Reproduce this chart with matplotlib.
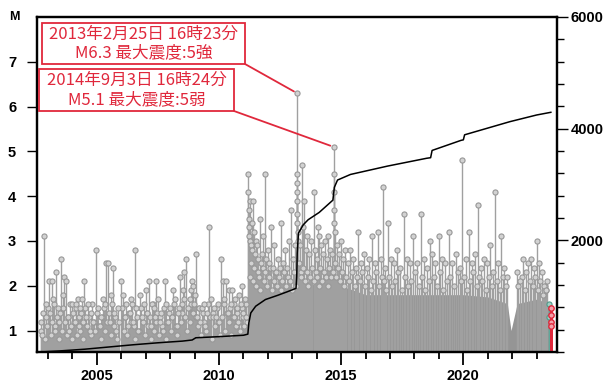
import matplotlib
matplotlib.use("Agg")
import matplotlib.pyplot as plt
from matplotlib.patches import Rectangle
from matplotlib.ticker import MultipleLocator, FixedLocator

# ---------------- data ----------------
# earlier, sparser activity (decimal year, magnitude)
pre_t = [2002.70, 2002.76, 2002.84, 2002.90, 2002.97, 2003.05, 2003.09, 2003.15, 2003.21, 2003.27,
         2003.33, 2003.40, 2003.46, 2003.53, 2003.60, 2003.67, 2003.74, 2003.80, 2003.86, 2003.97,
         2004.03, 2004.10, 2004.15, 2004.22, 2004.28, 2004.33, 2004.38, 2004.48, 2004.55, 2004.62,
         2004.70, 2004.78, 2004.86, 2004.97, 2005.05, 2005.12, 2005.18, 2005.25, 2005.32, 2005.38,
         2005.45, 2005.52, 2005.59, 2005.66, 2005.72, 2005.80, 2005.88, 2005.98, 2006.07, 2006.14,
         2006.20, 2006.27, 2006.34, 2006.41, 2006.48, 2006.55, 2006.62, 2006.70, 2006.77, 2006.84,
         2006.92, 2007.02, 2007.07, 2007.14, 2007.20, 2007.25, 2007.32, 2007.37, 2007.43, 2007.50,
         2007.57, 2007.64, 2007.71, 2007.78, 2007.85, 2007.92, 2008.00, 2008.06, 2008.12, 2008.20,
         2008.27, 2008.34, 2008.41, 2008.47, 2008.52, 2008.57, 2008.66, 2008.74, 2008.80, 2008.85,
         2008.89, 2008.95, 2008.98, 2009.05, 2009.10, 2009.17, 2009.24, 2009.30, 2009.37, 2009.44,
         2009.50, 2009.60, 2009.67, 2009.74, 2009.80, 2009.87, 2009.94, 2010.01, 2010.09, 2010.16,
         2010.22, 2010.30, 2010.35, 2010.42, 2010.48, 2010.54, 2010.60, 2010.66, 2010.72, 2010.77,
         2010.83, 2010.89, 2010.94, 2011.00, 2011.06, 2011.12]
pre_m = [1.2, 0.9, 3.1, 1.6, 1.1, 2.1, 1.4, 2.1, 1.7, 1.0,
         2.3, 1.5, 1.2, 2.6, 1.8, 2.2, 2.1, 1.3, 1.0, 1.6,
         1.4, 1.2, 1.6, 1.7, 1.1, 1.5, 1.7, 2.1, 1.3, 1.6,
         1.0, 1.4, 1.2, 2.8, 1.5, 1.1, 1.3, 1.7, 1.6, 2.5,
         2.5, 1.2, 1.8, 2.4, 1.4, 1.0, 1.5, 2.1, 1.8, 1.3,
         1.6, 1.1, 1.4, 1.7, 1.2, 2.8, 1.5, 1.0, 1.8, 1.3,
         1.6, 1.9, 1.4, 2.1, 1.1, 1.6, 1.5, 1.3, 2.1, 1.7,
         1.2, 1.4, 1.0, 2.1, 1.6, 1.2, 1.5, 1.3, 1.9, 1.7,
         1.1, 1.4, 2.2, 1.6, 1.9, 2.3, 2.6, 1.5, 1.7, 1.9,
         2.1, 2.0, 1.6, 2.7, 1.3, 1.5, 1.2, 1.5, 1.6, 1.1,
         1.4, 3.3, 1.7, 1.3, 1.5, 1.3, 1.6, 1.2, 2.6, 2.1,
         1.7, 2.1, 1.4, 1.9, 1.6, 1.9, 1.3, 1.7, 1.5, 1.2,
         1.8, 1.6, 2.0, 1.4, 1.7, 1.3]

# further small events of the earlier period
pre2_t = [2002.73, 2002.80, 2002.87, 2002.93, 2003.01, 2003.12, 2003.18, 2003.24, 2003.30, 2003.37,
          2003.43, 2003.50, 2003.57, 2003.63, 2003.70, 2003.77, 2003.83, 2003.90, 2003.93, 2004.00,
          2004.06, 2004.13, 2004.18, 2004.25, 2004.31, 2004.36, 2004.42, 2004.45, 2004.52, 2004.58,
          2004.66, 2004.74, 2004.82, 2004.90, 2004.94, 2005.01, 2005.08, 2005.15, 2005.22, 2005.29,
          2005.35, 2005.42, 2005.49, 2005.56, 2005.63, 2005.69, 2005.76, 2005.84, 2005.92, 2006.02,
          2006.10, 2006.17, 2006.24, 2006.30, 2006.38, 2006.44, 2006.51, 2006.58, 2006.66, 2006.74,
          2006.80, 2006.88, 2006.96, 2007.04, 2007.10, 2007.17, 2007.23, 2007.29, 2007.35, 2007.40,
          2007.47, 2007.54, 2007.60, 2007.67, 2007.74, 2007.82, 2007.89, 2007.96, 2008.03, 2008.09,
          2008.16, 2008.23, 2008.30, 2008.37, 2008.44, 2008.50, 2008.55, 2008.61, 2008.70, 2008.77,
          2008.83, 2008.87, 2008.92, 2009.01, 2009.07, 2009.13, 2009.20, 2009.27, 2009.34, 2009.40,
          2009.47, 2009.54, 2009.63, 2009.70, 2009.77, 2009.84, 2009.90, 2009.97, 2010.05, 2010.12,
          2010.19, 2010.26, 2010.33, 2010.39, 2010.45, 2010.51, 2010.57, 2010.63, 2010.69, 2010.75,
          2010.80, 2010.86, 2010.92, 2010.97, 2011.03, 2011.09, 2011.15]
pre2_m = [1.0, 1.4, 0.8, 1.3, 1.5, 0.9, 1.2, 1.6, 1.1, 1.3,
          0.8, 1.4, 1.0, 1.5, 1.2, 0.9, 1.3, 1.6, 1.1, 0.8,
          1.2, 1.5, 0.9, 1.3, 1.0, 1.4, 1.2, 0.8, 1.5, 1.1,
          1.3, 0.9, 1.6, 1.2, 1.0, 1.4, 1.1, 0.8, 1.3, 1.5,
          1.0, 1.2, 1.4, 0.9, 1.6, 1.1, 1.3, 0.8, 1.2, 1.5,
          1.0, 1.3, 0.9, 1.4, 1.2, 1.6, 1.1, 0.8, 1.3, 1.0,
          1.5, 1.2, 0.9, 1.4, 1.1, 1.3, 0.8, 1.6, 1.0, 1.2,
          1.4, 0.9, 1.3, 1.1, 1.5, 0.8, 1.2, 1.4, 1.0, 1.3,
          1.6, 1.1, 0.9, 1.5, 1.2, 1.4, 1.7, 1.3, 1.0, 1.5,
          1.2, 1.6, 1.4, 1.8, 1.3, 1.1, 1.5, 0.9, 1.4, 1.2,
          1.0, 1.6, 1.3, 0.8, 1.4, 1.1, 1.5, 1.2, 0.9, 1.3,
          1.6, 1.0, 1.4, 1.2, 1.5, 0.9, 1.3, 1.6, 1.1, 1.4,
          1.2, 1.0, 1.5, 1.3, 1.1, 1.6, 1.2]

# later activity: larger events rising above the dense band
post_t = [2011.19, 2011.20, 2011.21, 2011.22, 2011.23, 2011.24, 2011.26, 2011.28, 2011.30, 2011.33,
          2011.36, 2011.39, 2011.42, 2011.46, 2011.50, 2011.55, 2011.60, 2011.66, 2011.72, 2011.76,
          2011.82, 2011.87, 2011.93, 2012.00, 2012.06, 2012.12, 2012.20, 2012.27, 2012.35, 2012.41,
          2012.48, 2012.55, 2012.62, 2012.70, 2012.78, 2012.86, 2012.95, 2013.02, 2013.10,
          2013.19, 2013.19, 2013.19, 2013.19, 2013.19, 2013.20, 2013.21, 2013.22, 2013.24,
          2013.30, 2013.40, 2013.45, 2013.49, 2013.55, 2013.62, 2013.70, 2013.78, 2013.87, 2013.93,
          2014.00, 2014.05, 2014.11, 2014.19, 2014.26, 2014.33, 2014.40, 2014.48, 2014.55, 2014.62,
          2014.69, 2014.69, 2014.69, 2014.70, 2014.71, 2014.76, 2014.82, 2014.90, 2014.99, 2015.08,
          2015.17, 2015.26, 2015.38, 2015.50, 2015.60, 2015.70, 2015.80, 2015.92, 2016.05, 2016.15,
          2016.25, 2016.38, 2016.50, 2016.62, 2016.70, 2016.80, 2016.90, 2017.02, 2017.15, 2017.28,
          2017.40, 2017.55, 2017.68, 2017.80, 2017.95, 2018.10, 2018.25, 2018.38, 2018.52, 2018.65,
          2018.72, 2018.85, 2019.00, 2019.12, 2019.25, 2019.40, 2019.55, 2019.70, 2019.85, 2019.93,
          2020.10, 2020.22, 2020.35, 2020.48, 2020.60, 2020.72, 2020.85, 2020.97, 2021.10, 2021.30,
          2021.42, 2021.55, 2021.68, 2021.80, 2022.20, 2022.32, 2022.45, 2022.58, 2022.65, 2022.78,
          2022.88, 2023.00, 2023.10, 2023.20, 2023.28, 2023.40]
post_m = [4.5, 4.1, 3.7, 3.5, 3.3, 3.1, 3.0, 3.9, 2.9, 3.4,
          2.8, 3.9, 3.2, 2.7, 3.0, 2.9, 2.6, 3.5, 2.5, 2.7,
          3.1, 4.5, 2.6, 2.8, 2.5, 3.3, 2.4, 2.9, 2.3, 2.6,
          2.4, 3.4, 2.5, 2.8, 2.4, 3.0, 3.7, 2.6, 2.9,
          6.3, 4.5, 4.3, 4.1, 3.9, 3.6, 3.4, 3.2, 3.0,
          2.9, 4.7, 3.3, 3.9, 2.8, 3.1, 2.7, 3.0, 4.1, 2.8,
          2.6, 3.3, 3.1, 2.9, 2.7, 3.0, 2.6, 3.1, 2.8, 2.7,
          5.1, 4.5, 4.1, 3.7, 3.4, 3.2, 2.9, 2.7, 3.0, 2.6,
          2.8, 2.5, 2.8, 2.6, 2.4, 3.2, 2.5, 2.7, 2.4, 2.6,
          3.1, 2.5, 3.2, 2.6, 4.2, 2.4, 3.4, 2.6, 2.5, 2.8,
          2.4, 3.6, 2.6, 2.5, 3.1, 2.5, 3.6, 2.6, 2.4, 3.0,
          2.7, 2.5, 3.1, 2.6, 2.5, 3.2, 2.5, 2.7, 2.4, 4.8,
          2.6, 3.2, 2.5, 2.7, 3.8, 2.4, 2.6, 2.5, 2.9, 4.1,
          2.5, 3.1, 2.4, 2.2, 2.3, 2.1, 2.6, 2.3, 2.5, 2.6,
          2.4, 3.0, 2.5, 2.3, 2.0, 1.9]

# later activity: medium events forming the ragged top of the band
mid_t = [2011.25, 2011.31, 2011.38, 2011.44, 2011.53, 2011.58, 2011.63, 2011.69, 2011.79, 2011.85,
         2011.90, 2011.97, 2012.03, 2012.09, 2012.16, 2012.23, 2012.31, 2012.38, 2012.45, 2012.52,
         2012.59, 2012.66, 2012.74, 2012.82, 2012.90, 2012.99, 2013.06, 2013.13, 2013.27, 2013.34,
         2013.37, 2013.43, 2013.52, 2013.58, 2013.66, 2013.74, 2013.82, 2013.90, 2013.97, 2014.03,
         2014.08, 2014.15, 2014.23, 2014.30, 2014.37, 2014.44, 2014.51, 2014.58, 2014.65, 2014.74,
         2014.79, 2014.86, 2014.94, 2015.03, 2015.12, 2015.21, 2015.31, 2015.44, 2015.55, 2015.65,
         2015.75, 2015.86, 2015.98, 2016.10, 2016.20, 2016.31, 2016.44, 2016.56, 2016.66, 2016.75,
         2016.85, 2016.96, 2017.08, 2017.21, 2017.34, 2017.47, 2017.61, 2017.74, 2017.87, 2018.02,
         2018.17, 2018.31, 2018.45, 2018.58, 2018.78, 2018.92, 2019.06, 2019.18, 2019.32, 2019.47,
         2019.62, 2019.77, 2019.90, 2020.04, 2020.16, 2020.28, 2020.41, 2020.54, 2020.66, 2020.78,
         2020.91, 2021.03, 2021.16, 2021.23, 2021.36, 2021.48, 2021.61, 2021.74, 2022.25, 2022.38,
         2022.51, 2022.71, 2022.83, 2022.94, 2023.05, 2023.15, 2023.24, 2023.33, 2023.37, 2023.44]
mid_m = [2.2, 2.5, 2.1, 2.4, 2.0, 2.3, 2.2, 1.9, 2.4, 2.1,
         2.3, 2.0, 2.2, 2.4, 1.9, 2.1, 2.3, 2.0, 2.2, 1.9,
         2.1, 2.3, 2.0, 2.2, 2.1, 1.9, 2.3, 2.0, 2.5, 2.3,
         2.2, 2.4, 2.1, 2.3, 2.0, 2.2, 2.4, 2.1, 2.3, 2.2,
         2.0, 2.4, 2.1, 2.3, 2.2, 2.0, 2.4, 2.2, 2.3, 2.5,
         2.2, 2.4, 2.1, 2.3, 2.0, 2.2, 2.1, 2.3, 2.0, 2.2,
         2.1, 2.3, 2.0, 2.2, 1.9, 2.1, 2.3, 2.0, 2.2, 2.1,
         1.9, 2.2, 2.0, 2.1, 2.3, 1.9, 2.2, 2.0, 2.1, 2.3,
         2.0, 2.2, 1.9, 2.1, 2.2, 2.0, 2.3, 1.9, 2.1, 2.2,
         2.0, 2.3, 2.1, 2.2, 1.9, 2.1, 2.3, 2.0, 2.2, 2.1,
         1.9, 2.2, 2.0, 2.3, 2.1, 1.9, 2.2, 2.0, 2.0, 2.2,
         1.9, 2.1, 2.0, 2.2, 1.9, 2.1, 1.8, 2.0, 1.9, 2.1]

# upper edge of the solid band of numerous small events
band_t = [2011.18, 2011.20, 2011.50, 2012.00, 2012.50, 2013.15, 2013.20, 2013.60, 2014.00,
          2014.68, 2015.00, 2015.50, 2016.00, 2017.00, 2018.00, 2019.00, 2020.00, 2021.00,
          2021.80, 2021.95, 2022.20, 2023.00, 2023.52]
band_m = [2.0, 2.3, 2.0, 1.9, 1.8, 1.9, 2.3, 2.1, 2.0,
          2.2, 2.0, 1.9, 1.8, 1.8, 1.8, 1.8, 1.8, 1.75,
          1.6, 1.0, 1.6, 1.7, 1.6]

# events of the previous month (green) and the latest month (red)
prev_t = [2023.50, 2023.50]
prev_m = [1.6, 1.3]
last_t = [2023.58, 2023.58, 2023.58, 2023.58]
last_m = [1.5, 1.35, 1.2, 1.1]

# cumulative number of events
cum_t = [2002.70, 2003.50, 2004.50, 2005.50, 2006.50, 2007.50, 2008.50, 2008.90, 2009.05, 2010.00,
         2011.00, 2011.18, 2011.22, 2011.30, 2011.50, 2011.90, 2012.40, 2012.80, 2013.15, 2013.18,
         2013.20, 2013.25, 2013.45, 2013.65, 2014.10, 2014.66, 2014.72, 2014.85, 2015.38, 2016.90,
         2018.50, 2018.66, 2018.72, 2019.90, 2020.00, 2020.05, 2021.90, 2023.00, 2023.58]
cum_n = [0, 20, 50, 90, 130, 165, 195, 215, 255, 275,
         300, 320, 520, 700, 820, 940, 1015, 1080, 1140, 1350,
         1770, 2130, 2280, 2370, 2500, 2720, 2950, 3080, 3180, 3330,
         3470, 3480, 3610, 3790, 3800, 3890, 4125, 4245, 4293]

x_labels = ["2005", "2010", "2015", "2020"]
x_label_years = [2005, 2010, 2015, 2020]
y_labels = [1, 2, 3, 4, 5, 6, 7]
cum_labels = [2000, 4000, 6000]

notes = [
    ("2013年2月25日 16時23分\nM6.3 最大震度:5強", 2013.19, 6.3),
    ("2014年9月3日 16時24分\nM5.1 最大震度:5弱", 2014.69, 5.1),
]

# ---------------- drawing ----------------
plt.rcParams['font.family'] = ['Liberation Sans', 'DejaVu Sans']
W, H = 608, 385
fig = plt.figure(figsize=(W / 100, H / 100), dpi=100)
ax = fig.add_axes([37 / W, 33 / H, (556.7 - 37) / W, (352 - 17) / H])

YMIN, YMAX = 0.52, 8.0
XMIN, XMAX = 2002.55, 2023.82
stem_c = '#a0a0a0'
band_c = '#959595'
face_c = '#d2d2d2'
edge_c = '#979797'
red = '#e0283c'
mk = dict(ms=3.7, mfc=face_c, mec=edge_c, mew=0.8, ls='none', marker='o')

ax.fill_between(band_t, YMIN, band_m, color=band_c, lw=0, zorder=1)
for tt, mm in ((pre2_t, pre2_m), (pre_t, pre_m), (mid_t, mid_m), (post_t, post_m)):
    ax.vlines(tt, YMIN, mm, color=stem_c, lw=1.0, zorder=2)
for tt, mm in ((pre2_t, pre2_m), (pre_t, pre_m), (mid_t, mid_m), (post_t, post_m)):
    ax.plot(tt, mm, zorder=3, **mk)
ax.vlines(prev_t, YMIN, prev_m, color='#5fa89a', lw=1.0, zorder=3)
ax.plot(prev_t, prev_m, 'o', ms=3.7, mfc='#9fd0c4', mec='#4f9a8a', mew=0.8, zorder=3)
ax.vlines(last_t, YMIN, last_m, color=red, lw=2.0, zorder=4)
ax.plot(last_t, last_m, 'o', ms=3.9, mfc='#f3a0aa', mec=red, mew=1.0, zorder=4)

ax.set_xlim(XMIN, XMAX)
ax.set_ylim(YMIN, YMAX)
ax.xaxis.set_major_locator(FixedLocator(x_label_years))
ax.set_xticklabels(x_labels, fontweight='bold')
ax.xaxis.set_minor_locator(MultipleLocator(1))
ax.yaxis.set_major_locator(FixedLocator(y_labels))
ax.set_yticklabels([str(v) for v in y_labels], fontweight='bold')
ax.yaxis.set_minor_locator(FixedLocator([]))
ax.tick_params(axis='x', which='major', direction='out', length=9, width=1.3, labelsize=10.5, pad=3)
ax.tick_params(axis='x', which='minor', direction='out', length=5, width=1.3)
ax.tick_params(axis='y', which='major', direction='out', length=7, width=1.0, labelsize=10.5, pad=8)
for s in ax.spines.values():
    s.set_linewidth(1.6)

ax2 = ax.twinx()
ax2.plot(cum_t, cum_n, color='black', lw=1.1, zorder=5)
ax2.set_ylim(0, 6000)
ax2.yaxis.set_major_locator(FixedLocator(cum_labels))
ax2.set_yticklabels([str(v) for v in cum_labels], fontweight='bold')
ax2.yaxis.set_minor_locator(MultipleLocator(400))
ax2.tick_params(axis='y', which='major', direction='out', length=8, width=1.0, labelsize=10.5, pad=2)
ax2.tick_params(axis='y', which='minor', direction='out', length=5, width=1.0)
for s in ax2.spines.values():
    s.set_linewidth(1.6)

fig.text(14 / W, 1 - 17 / H, 'M', fontsize=9, fontweight='bold', ha='center', va='center')

# annotation boxes
boxes = [(42, 23, 245, 64), (39, 69, 234, 111)]
for (txt, t, m), (x0, y0, x1, y1) in zip(notes, boxes):
    fig.patches.append(Rectangle((x0 / W, 1 - y1 / H), (x1 - x0) / W, (y1 - y0) / H,
                                 transform=fig.transFigure, fill=True, facecolor='white',
                                 edgecolor=red, lw=1.3, zorder=10))
    fig.text((x0 + x1) / 2 / W, 1 - (y0 + y1) / 2 / H, txt, color=red, fontsize=12,
             ha='center', va='center', linespacing=1.15, zorder=11,
             family=['Noto Sans CJK JP', 'DejaVu Sans'])
    ax.annotate('', xy=(t, m), xycoords='data', xytext=(x1 / W, 1 - y1 / H),
                textcoords='figure fraction',
                arrowprops=dict(arrowstyle='-', color=red, lw=1.3, shrinkA=0, shrinkB=2.5),
                zorder=9)

fig.savefig('out.png', dpi=100)
